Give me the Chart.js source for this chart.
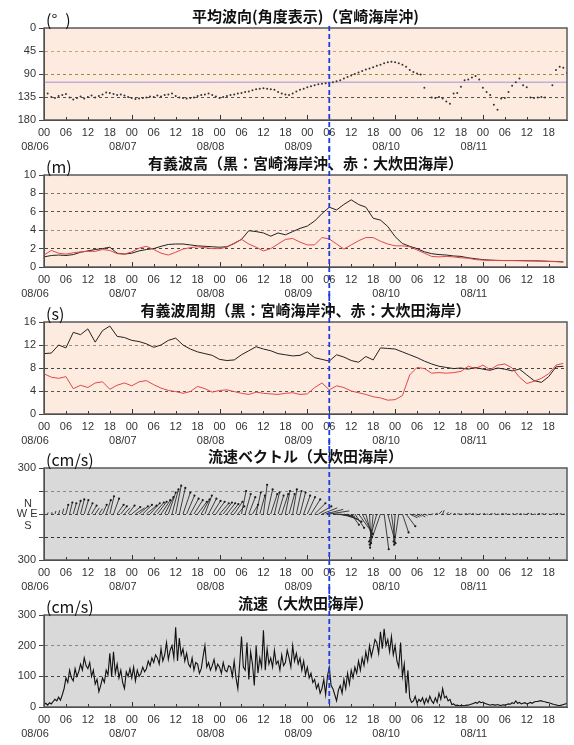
<!DOCTYPE html>
<html>
<head>
<meta charset="utf-8">
<script src="https://cdn.jsdelivr.net/npm/chart.js@4.4.0/dist/chart.umd.min.js"></script>
<style>
body{margin:0;background:#fff;width:574px;height:745px;position:relative;overflow:hidden;font-family:"Noto Sans CJK JP",sans-serif;}
.pane{position:absolute;left:0;width:574px;height:154px;}
.ttl{position:absolute;left:44px;width:523px;text-align:center;font-size:15px;font-weight:bold;line-height:18px;color:#111;white-space:nowrap;z-index:5;}
.unit{position:absolute;left:46px;font-size:16px;line-height:18px;color:#111;z-index:5;white-space:nowrap;}
</style>
</head>
<body>
<div id="root"></div>
<script>
// axis labels
const hourLabels = ['00', '06', '12', '18'];
const dateLabels = ['08/06', '08/07', '08/08', '08/09', '08/10', '08/11'];
const xMaxHour = 143;
const markHour = 78; // 08/09 06:00

const titles = [
  '平均波向(角度表示)（宮崎海岸沖)',
  '有義波高（黒：宮崎海岸沖、赤：大炊田海岸）',
  '有義波周期（黒：宮崎海岸沖、赤：大炊田海岸）',
  '流速ベクトル（大炊田海岸）',
  '流速（大炊田海岸）'
];
const units = ['(°\u2002)', '(m)', '(s)', '(cm/s)', '(cm/s)'];

// mean wave direction, hourly (deg)
const waveDir = [
  132,128,135,137,133,131,129,136,140,137,134,138,135,132,136,133,130,126,127,129,131,130,132,135,
  137,139,138,137,136,134,135,132,134,131,130,128,133,136,137,138,137,136,133,131,130,128,131,134,
  137,135,133,131,130,128,127,125,124,122,120,119,118,119,120,121,125,128,130,131,128,124,121,119,
  116,114,112,110,109,108,107,106,104,102,99,96,93,90,87,84,81,79,77,74,72,69,67,66,
  67,69,72,76,82,86,89,91,117,null,136,137,135,138,144,148,128,127,115,102,101,97,94,101,
  117,125,131,150,160,138,137,125,113,106,99,112,116,136,137,136,135,136,null,112,82,76,78,88
];
const normalDir = 106;

// significant wave height, every 2 h (m)
const heightOffshore = [
  1.1,1.25,1.3,1.25,1.35,1.6,1.75,1.9,2.0,2.15,1.5,1.4,
  1.5,1.75,1.9,2.0,2.25,2.45,2.5,2.5,2.4,2.3,2.25,2.2,
  2.15,2.2,2.55,3.0,3.95,3.85,3.7,3.35,3.7,3.5,3.85,4.2,
  4.45,5.0,5.8,6.5,6.2,6.8,7.3,6.8,6.5,5.3,5.1,4.4,
  3.3,2.55,2.25,2.0,1.65,1.45,1.35,1.3,1.2,1.15,1.0,0.9,
  0.8,0.75,0.72,0.7,0.7,0.7,0.68,0.67,0.65,0.62,0.6,0.55
];
const heightBeach = [
  1.3,1.8,1.5,1.4,1.55,1.65,1.7,1.7,1.9,1.8,1.45,1.4,
  1.65,2.05,2.25,1.9,1.5,1.3,1.6,1.95,2.1,2.2,2.1,2.0,
  2.0,2.15,2.6,3.0,2.5,2.15,1.75,2.0,2.5,3.0,3.1,2.7,
  2.4,2.4,3.2,3.05,2.5,1.95,2.4,2.85,3.2,3.2,2.8,2.5,
  2.3,2.3,2.2,1.85,1.5,1.15,1.1,1.15,1.1,1.0,0.95,0.8,
  0.75,0.72,0.7,0.7,0.7,0.68,0.67,0.66,0.64,0.6,0.58,0.55
];

// significant wave period, every 2 h (s)
const periodOffshore = [
  10.5,10.6,12.0,11.5,14.2,13.8,14.8,12.5,14.5,15.3,13.5,13.3,
  12.8,12.6,12.2,11.6,12.0,12.8,13.2,12.0,11.3,10.8,10.5,10.2,
  9.5,9.3,9.4,10.3,11.0,11.7,11.3,11.0,10.5,10.3,10.1,10.2,
  10.8,9.8,9.5,9.2,10.3,9.9,9.3,9.0,10.0,9.4,11.5,11.4,
  11.3,10.8,10.3,9.8,9.2,8.7,8.3,8.1,7.9,8.0,7.8,8.1,
  7.8,7.6,8.0,7.8,7.5,7.8,6.8,5.8,5.5,6.5,8.2,8.3
];
const periodBeach = [
  7.0,6.4,6.2,6.5,4.4,5.0,4.6,5.4,5.6,4.3,5.0,5.4,
  4.9,5.6,5.8,5.1,4.5,4.1,3.9,3.6,3.9,4.8,4.4,3.8,
  4.1,4.2,3.9,3.6,3.4,3.8,3.6,3.5,3.4,3.6,3.7,3.4,
  3.5,4.6,5.4,4.2,4.9,4.6,4.0,3.7,3.4,3.0,2.8,2.4,
  2.5,3.2,6.8,8.1,7.9,7.1,7.2,7.1,7.2,7.4,8.3,7.9,
  8.5,7.7,8.5,8.7,8.0,6.4,5.3,5.7,6.2,7.0,8.5,8.8
];

// current vector components, hourly (cm/s)
const curEast = [
  2,3,4,6,7,9,15,18,20,24,24,27,30,33,27,24,27,30,27,36,42,39,36,42,
  55,60,57,60,66,63,66,60,60,57,48,42,36,39,48,51,54,57,60,54,45,51,54,57,
  60,57,54,51,54,42,30,36,42,36,30,33,24,36,42,33,36,42,30,36,27,33,36,42,
  50,60,70,85,100,115,130,130,120,110,100,90,50,60,80,70,40,10,-20,-50,-70,30,50,20,
  -10,-30,40,60,50,40,30,30,20,15,10,15,20,10,15,10,12,15,10,14,16,12,15,10,
  14,12,15,10,12,16,14,12,10,15,12,14,16,10,12,15,14,10,12,16,14,12,10,8
];
const curNorth = [
  8,10,12,20,25,35,60,75,70,85,95,90,70,55,40,35,60,90,115,100,60,50,40,55,
  45,40,50,60,55,70,75,80,90,110,140,160,185,170,140,120,100,90,80,95,120,100,85,80,
  70,75,70,65,80,50,150,130,110,60,140,120,190,160,130,140,120,130,150,130,160,150,140,120,
  110,95,70,50,40,30,20,-10,-15,-30,-40,-50,-70,-90,-110,-130,-150,-190,-220,-180,-200,-230,-190,-150,
  -180,-200,-120,-80,-25,-20,-15,-20,-10,-5,0,5,20,25,10,5,3,2,-2,3,2,4,-3,2,
  3,-2,2,4,-2,3,2,-3,4,2,3,-2,5,3,-2,4,2,3,-3,2,4,3,-2,3
];
const stickHoursPerCms = 0.042;

// current speed, every 30 min (cm/s)
const curSpeed = [
  8,12,6,14,10,18,25,20,32,22,40,60,
  95,80,120,95,85,125,100,115,140,120,160,135,
  125,145,100,120,75,90,50,70,95,80,120,105,
  175,100,180,110,140,95,120,80,60,115,100,125,
  95,130,85,120,100,110,130,115,125,150,135,160,
  145,170,160,140,190,150,170,210,155,185,200,160,
  260,150,225,170,190,150,175,140,130,160,120,145,
  140,110,125,165,200,130,145,120,135,155,120,140,
  130,110,145,120,115,135,130,100,150,95,60,140,
  230,130,120,210,90,180,140,70,200,110,160,130,
  250,120,190,140,160,130,185,140,150,120,170,135,
  145,185,160,130,200,150,175,140,160,120,150,105,
  130,95,110,80,90,60,75,45,60,90,40,100,
  130,70,60,40,20,55,70,45,90,60,110,75,
  120,95,130,110,150,120,160,135,180,150,200,165,
  190,220,210,175,245,190,255,200,220,180,230,170,
  200,150,130,210,100,140,45,120,30,15,20,35,
  12,25,18,30,10,28,15,35,20,12,30,15,
  45,25,60,30,35,20,25,8,10,5,6,4,
  5,5,4,6,6,8,10,12,15,12,18,14,
  16,12,10,8,6,8,7,6,8,6,5,7,
  6,8,10,9,14,11,20,12,15,10,12,14,
  10,12,15,12,16,18,18,20,20,18,17,15,
  14,12,10,8,7,5,5,6,8,10,12,14
];

// ---- layout ----
const plotTops = [28, 175, 322, 468, 615];
const hourTicks = [];
for (let h = 0; h <= 138; h += 6) hourTicks.push(h);

Chart.defaults.font.family = '"Liberation Sans", Arial, sans-serif';
Chart.defaults.font.size = 11;
Chart.defaults.color = '#333';

const root = document.getElementById('root');
const canvases = plotTops.map((t, i) => {
  const pane = document.createElement('div');
  pane.className = 'pane';
  pane.style.top = (t - 28) + 'px';
  pane.style.zIndex = i + 1;
  const cv = document.createElement('canvas');
  cv.width = 574; cv.height = 154;
  pane.appendChild(cv);
  root.appendChild(pane);

  const ttl = document.createElement('div');
  ttl.className = 'ttl';
  ttl.style.top = (t - 21) + 'px';
  ttl.textContent = titles[i];
  root.appendChild(ttl);

  const un = document.createElement('div');
  un.className = 'unit';
  un.style.top = (t - 18) + 'px';
  un.textContent = units[i];
  root.appendChild(un);
  return cv;
});

function decoPlugin(cfg) {
  return {
    id: 'deco' + cfg.idx,
    beforeDraw(chart) {
      const a = chart.chartArea, c = chart.ctx;
      c.save();
      c.fillStyle = cfg.bg;
      c.fillRect(a.left, a.top, a.right - a.left, a.bottom - a.top);
      c.restore();
    },
    beforeDatasetsDraw(chart) {
      if (cfg.refValue == null) return;
      const a = chart.chartArea, c = chart.ctx;
      const y = chart.scales.y.getPixelForValue(cfg.refValue);
      c.save();
      c.strokeStyle = '#a394d6'; c.lineWidth = 1;
      c.beginPath(); c.moveTo(a.left, y); c.lineTo(a.right, y); c.stroke();
      c.restore();
    },
    afterDraw(chart) {
      const a = chart.chartArea, c = chart.ctx, xs = chart.scales.x;
      c.save();
      c.strokeStyle = '#333'; c.lineWidth = 1;
      hourTicks.forEach(h => {
        const x = Math.round(xs.getPixelForValue(h)) + 0.5;
        c.beginPath(); c.moveTo(x, a.bottom); c.lineTo(x, a.bottom - (h % 24 === 0 ? 5 : 3)); c.stroke();
      });
      c.strokeStyle = '#5a5a5a'; c.lineWidth = 1.5;
      c.strokeRect(a.left, a.top, a.right - a.left, a.bottom - a.top);

      c.fillStyle = '#333';
      c.font = '11px "Liberation Sans", Arial, sans-serif';
      c.textAlign = 'center'; c.textBaseline = 'middle';
      dateLabels.forEach((d, i) => c.fillText(d, xs.getPixelForValue(i * 24) - 9, a.bottom + 27));

      if (cfg.compass) {
        const y0 = chart.scales.y.getPixelForValue(0);
        c.fillText('N', 28, y0 - 10);
        c.fillText('W', 22, y0);
        c.fillText('E', 34, y0);
        c.fillText('S', 28, y0 + 12);
      }

      const bx = xs.getPixelForValue(markHour);
      c.strokeStyle = '#1e3ce6'; c.lineWidth = 1.8; c.setLineDash([5, 3]);
      c.beginPath();
      c.moveTo(bx, cfg.idx === 0 ? a.top - 2 : 0);
      c.lineTo(bx, cfg.idx === 4 ? a.bottom : chart.height);
      c.stroke();
      c.restore();
    }
  };
}

function makeChart(idx, cfg, datasets) {
  return new Chart(canvases[idx], {
    type: 'line',
    data: { datasets: datasets },
    options: {
      responsive: false,
      animation: false,
      layout: { padding: { top: 28, right: 7, left: 0, bottom: 0 } },
      plugins: { legend: { display: false }, tooltip: { enabled: false } },
      scales: {
        x: {
          type: 'linear', min: 0, max: xMaxHour,
          afterBuildTicks: s => { s.ticks = hourTicks.map(v => ({ value: v })); },
          afterFit: s => { s.height = 34; },
          ticks: {
            autoSkip: false, maxRotation: 0, padding: 6,
            callback: v => hourLabels[(v / 6) % 4]
          },
          grid: { drawOnChartArea: false, drawTicks: false },
          border: { color: '#333', width: 1 }
        },
        y: {
          type: 'linear', min: cfg.min, max: cfg.max, reverse: !!cfg.reverse,
          afterBuildTicks: s => { s.ticks = cfg.ticks.map(v => ({ value: v })); },
          afterFit: s => { s.width = 44; },
          ticks: { padding: 3, callback: cfg.label || (v => String(v)) },
          grid: {
            color: ctx => cfg.gridColors[ctx.tick.value] || 'rgba(0,0,0,0)',
            lineWidth: 1, drawTicks: true, tickLength: 5, tickColor: '#444', tickWidth: 1
          },
          border: { color: '#333', width: 1, dash: [3, 3] }
        }
      }
    },
    plugins: [decoPlugin(Object.assign({ idx: idx }, cfg))]
  });
}

const peach = '#fdebdf';
const gray = '#d9d9d9';

// panel 1: wave direction
makeChart(0, {
  bg: peach, min: 0, max: 180, reverse: true, ticks: [0, 45, 90, 135, 180],
  gridColors: { 45: '#c9a07c', 90: '#9b8a3e', 135: '#555' }, refValue: normalDir
}, [{
  data: waveDir.map((d, i) => ({ x: i, y: d })),
  showLine: false, pointRadius: 1.0, pointBackgroundColor: '#333', pointBorderWidth: 0
}]);

// panel 2: wave height
makeChart(1, {
  bg: peach, min: 0, max: 10, ticks: [0, 2, 4, 6, 8, 10],
  gridColors: { 2: '#444', 4: '#9a8a80', 6: '#555', 8: '#777' }
}, [
  { data: heightBeach.map((d, i) => ({ x: i * 2, y: d })), borderColor: '#e2474a', borderWidth: 1, pointRadius: 0 },
  { data: heightOffshore.map((d, i) => ({ x: i * 2, y: d })), borderColor: '#222', borderWidth: 1, pointRadius: 0 }
]);

// panel 3: wave period
makeChart(2, {
  bg: peach, min: 0, max: 16, ticks: [0, 4, 8, 12, 16],
  gridColors: { 4: '#555', 8: '#444', 12: '#9a8a80' }
}, [
  { data: periodBeach.map((d, i) => ({ x: i * 2, y: d })), borderColor: '#e2474a', borderWidth: 1, pointRadius: 0 },
  { data: periodOffshore.map((d, i) => ({ x: i * 2, y: d })), borderColor: '#222', borderWidth: 1, pointRadius: 0 }
]);

// panel 4: current vectors (stick plot)
const sticks = [];
curEast.forEach((u, i) => {
  sticks.push({ x: i, y: 0 });
  sticks.push({ x: i + u * stickHoursPerCms, y: curNorth[i] });
  sticks.push({ x: i, y: null });
});
makeChart(3, {
  bg: gray, min: -300, max: 300, ticks: [-300, -150, 0, 150, 300],
  gridColors: { '-150': '#333', 0: '#444', 150: '#888' },
  label: v => (Math.abs(v) === 300 ? '300' : ''), compass: true
}, [{
  data: sticks, spanGaps: false, borderColor: '#2a2a2a', borderWidth: 0.9,
  pointRadius: ctx => {
    if (ctx.dataIndex % 3 !== 1) return 0;
    return Math.abs(curNorth[(ctx.dataIndex - 1) / 3]) > 40 ? 1.1 : 0;
  },
  pointBackgroundColor: '#1a1a1a', pointBorderWidth: 0
}]);

// panel 5: current speed
makeChart(4, {
  bg: gray, min: 0, max: 300, ticks: [0, 100, 200, 300],
  gridColors: { 100: '#444', 200: '#888' }
}, [{
  data: curSpeed.map((d, i) => ({ x: i * 0.5, y: d })),
  borderColor: '#111', borderWidth: 1.1, pointRadius: 0
}]);
</script>
</body>
</html>
